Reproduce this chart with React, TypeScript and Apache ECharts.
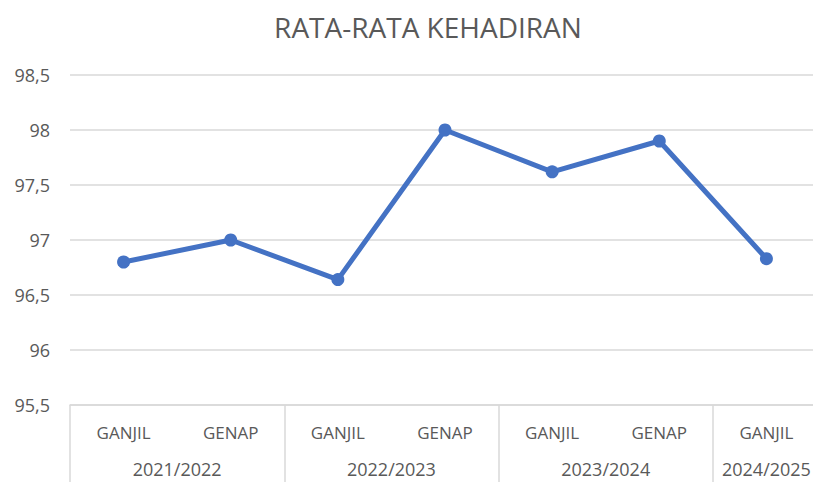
import React, { useEffect, useRef } from "react";
import * as echarts from "echarts";

const semesters = ["GANJIL", "GENAP", "GANJIL", "GENAP", "GANJIL", "GENAP", "GANJIL"];
const attendance = [96.8, 97.0, 96.64, 98.0, 97.62, 97.9, 96.83];
// year labels on a half-band scale (15 points, boundaryGap false)
const yearSlots = ["", "", "2021/2022", "", "", "", "2022/2023", "", "", "", "2023/2024", "", "", "2024/2025", ""];
const yMin = 95.5;
const yMax = 98.5;
const yStep = 0.5;

export default function App() {
  const ref = useRef<HTMLDivElement>(null);
  useEffect(() => {
    if (!ref.current) return;
    const chart = echarts.init(ref.current, null, { renderer: "svg" });
    const font = "'Open Sans', 'Noto Sans', sans-serif";
    chart.setOption({
      animation: false,
      textStyle: { fontFamily: font },
      title: {
        text: "RATA-RATA KEHADIRAN",
        left: 423,
        top: 8,
        textAlign: "center",
        textStyle: { fontFamily: font, fontSize: 28, fontWeight: "normal", color: "#595959" },
      },
      grid: { left: 70, top: 75, right: 0, bottom: 77 },
      xAxis: [
        {
          type: "category",
          data: semesters,
          boundaryGap: true,
          axisLine: { show: true, lineStyle: { color: "#d9d9d9", width: 1.5 } },
          axisTick: {
            show: true,
            interval: (i: number) => i % 2 === 0,
            length: 80,
            lineStyle: { color: "#d9d9d9", width: 1.5 },
          },
          axisLabel: { interval: 0, margin: 19, fontSize: 17, color: "#595959", fontFamily: font },
        },
        {
          type: "category",
          data: yearSlots,
          boundaryGap: false,
          position: "bottom",
          axisLine: { show: false },
          axisTick: { show: false },
          axisLabel: { interval: 0, margin: 55, fontSize: 18, color: "#595959", fontFamily: font },
        },
      ],
      yAxis: {
        type: "value",
        min: yMin,
        max: yMax,
        interval: yStep,
        axisLine: { show: false },
        axisTick: { show: false },
        splitLine: { lineStyle: { color: "#d9d9d9", width: 1.5 } },
        axisLabel: {
          margin: 20,
          fontSize: 18,
          color: "#595959",
          fontFamily: font,
          formatter: (v: number) => String(v).replace(".", ","),
        },
      },
      series: [
        {
          type: "line",
          data: attendance,
          xAxisIndex: 0,
          symbol: "circle",
          symbolSize: 13,
          lineStyle: { color: "#4472C4", width: 5 },
          itemStyle: { color: "#4472C4" },
        },
      ],
    });
    return () => chart.dispose();
  }, []);
  return (
    <div
      ref={ref}
      style={{ position: "fixed", left: 0, top: 0, width: 823, height: 482, background: "#fff" }}
    />
  );
}
